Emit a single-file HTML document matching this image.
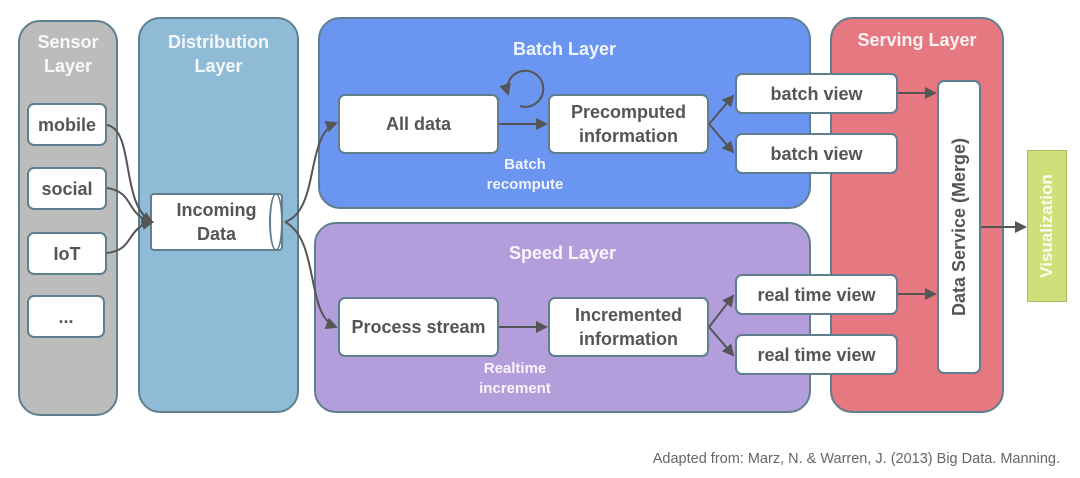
<!DOCTYPE html>
<html><head><meta charset="utf-8"><style>
body{margin:0;width:1080px;height:478px;background:#fff;position:relative;overflow:hidden;font-family:"Liberation Sans",sans-serif;}
.l{position:absolute;border:2px solid #5f7f8f;border-radius:22px;box-sizing:border-box;}
.t{position:absolute;color:#fff;font-weight:bold;font-size:18px;text-align:center;line-height:24px;opacity:.9}
.n{position:absolute;background:#fff;border:2px solid #5f7f8f;border-radius:7px;box-sizing:border-box;display:flex;align-items:center;justify-content:center;text-align:center;font-weight:bold;color:#555;font-size:18px;line-height:24px;}
svg{position:absolute;left:0;top:0}
</style></head><body>
<div class="l" style="left:18px;top:20px;width:100px;height:396px;background:#bcbcbc"></div>
<div class="t" style="left:18px;top:30px;width:100px;">Sensor<br>Layer</div>
<div class="l" style="left:138px;top:17px;width:161px;height:396px;background:#8fbbd7"></div>
<div class="t" style="left:138px;top:30px;width:161px;">Distribution<br>Layer</div>
<div class="l" style="left:318px;top:17px;width:493px;height:192px;background:#6a95f0"></div>
<div class="t" style="left:318px;top:37px;width:493px;">Batch Layer</div>
<div class="l" style="left:314px;top:222px;width:497px;height:191px;background:#b39edb"></div>
<div class="t" style="left:314px;top:241px;width:497px;">Speed Layer</div>
<div class="l" style="left:830px;top:17px;width:174px;height:396px;background:#e57880"></div>
<div class="t" style="left:830px;top:28px;width:174px;">Serving Layer</div>
<div style="position:absolute;left:1027px;top:150px;width:40px;height:152px;background:#cfe07a;border:1px solid #aab860;box-sizing:border-box"></div>
<div class="t" style="left:972px;top:214px;width:150px;height:24px;transform:rotate(-90deg);font-size:17px">Visualization</div>

<div class="n" style="left:27px;top:103px;width:80px;height:43px">mobile</div>
<div class="n" style="left:27px;top:167px;width:80px;height:43px">social</div>
<div class="n" style="left:27px;top:232px;width:80px;height:43px">IoT</div>
<div class="n" style="left:27px;top:295px;width:78px;height:43px">...</div>
<div class="n" style="left:150px;top:193px;width:133px;height:58px;border-radius:4px">Incoming<br>Data</div>
<div style="position:absolute;left:269px;top:193px;width:14px;height:58px;border:2px solid #5f7f8f;border-radius:7px/29px;box-sizing:border-box;background:#fff"></div>
<div class="n" style="left:338px;top:94px;width:161px;height:60px">All data</div>
<div class="n" style="left:548px;top:94px;width:161px;height:60px">Precomputed<br>information</div>
<div class="n" style="left:735px;top:73px;width:163px;height:41px">batch view</div>
<div class="n" style="left:735px;top:133px;width:163px;height:41px">batch view</div>
<div class="n" style="left:338px;top:297px;width:161px;height:60px">Process stream</div>
<div class="n" style="left:548px;top:297px;width:161px;height:60px">Incremented<br>information</div>
<div class="n" style="left:735px;top:274px;width:163px;height:41px">real time view</div>
<div class="n" style="left:735px;top:334px;width:163px;height:41px">real time view</div>
<div class="n" style="left:937px;top:80px;width:44px;height:294px"></div>
<div style="position:absolute;left:809px;top:215px;width:300px;height:24px;transform:rotate(-90deg);text-align:center;font-weight:bold;color:#555;font-size:18px;line-height:24px">Data Service (Merge)</div>

<div class="t" style="left:470px;top:155px;width:110px;font-size:15px;line-height:20px">Batch<br>recompute</div>
<div class="t" style="left:460px;top:359px;width:110px;font-size:15px;line-height:20px">Realtime<br>increment</div>

<svg width="1080" height="478">
<defs><marker id="a" markerWidth="6" markerHeight="6" refX="5" refY="3" orient="auto"><path d="M0,0L6,3L0,6z" fill="#555"/></marker></defs>
<g fill="none" stroke="#555" stroke-width="2" marker-end="url(#a)">
<path d="M107,125C135,130 120,205 152,222"/>
<path d="M107,188C135,192 125,215 152,222"/>
<path d="M107,253C135,250 125,228 152,222"/>
<path d="M285,222C320,210 305,135 336,123"/>
<path d="M285,222C320,240 305,315 336,327"/>
<path d="M499,124H546"/>
<path d="M499,327H546"/>
<path d="M709,124L733,96"/><path d="M709,124L733,152"/>
<path d="M709,327L733,296"/><path d="M709,327L733,355"/>
<path d="M898,93H935"/><path d="M898,294H935"/>
<path d="M981,227H1025"/>
<path d="M520,106A18,18 0 1 0 508,94"/>
</g></svg>
<div style="position:absolute;right:20px;top:451px;font-size:14.5px;color:#666">Adapted from: Marz, N. &amp; Warren, J. (2013) Big Data. Manning.</div>
</body></html>
